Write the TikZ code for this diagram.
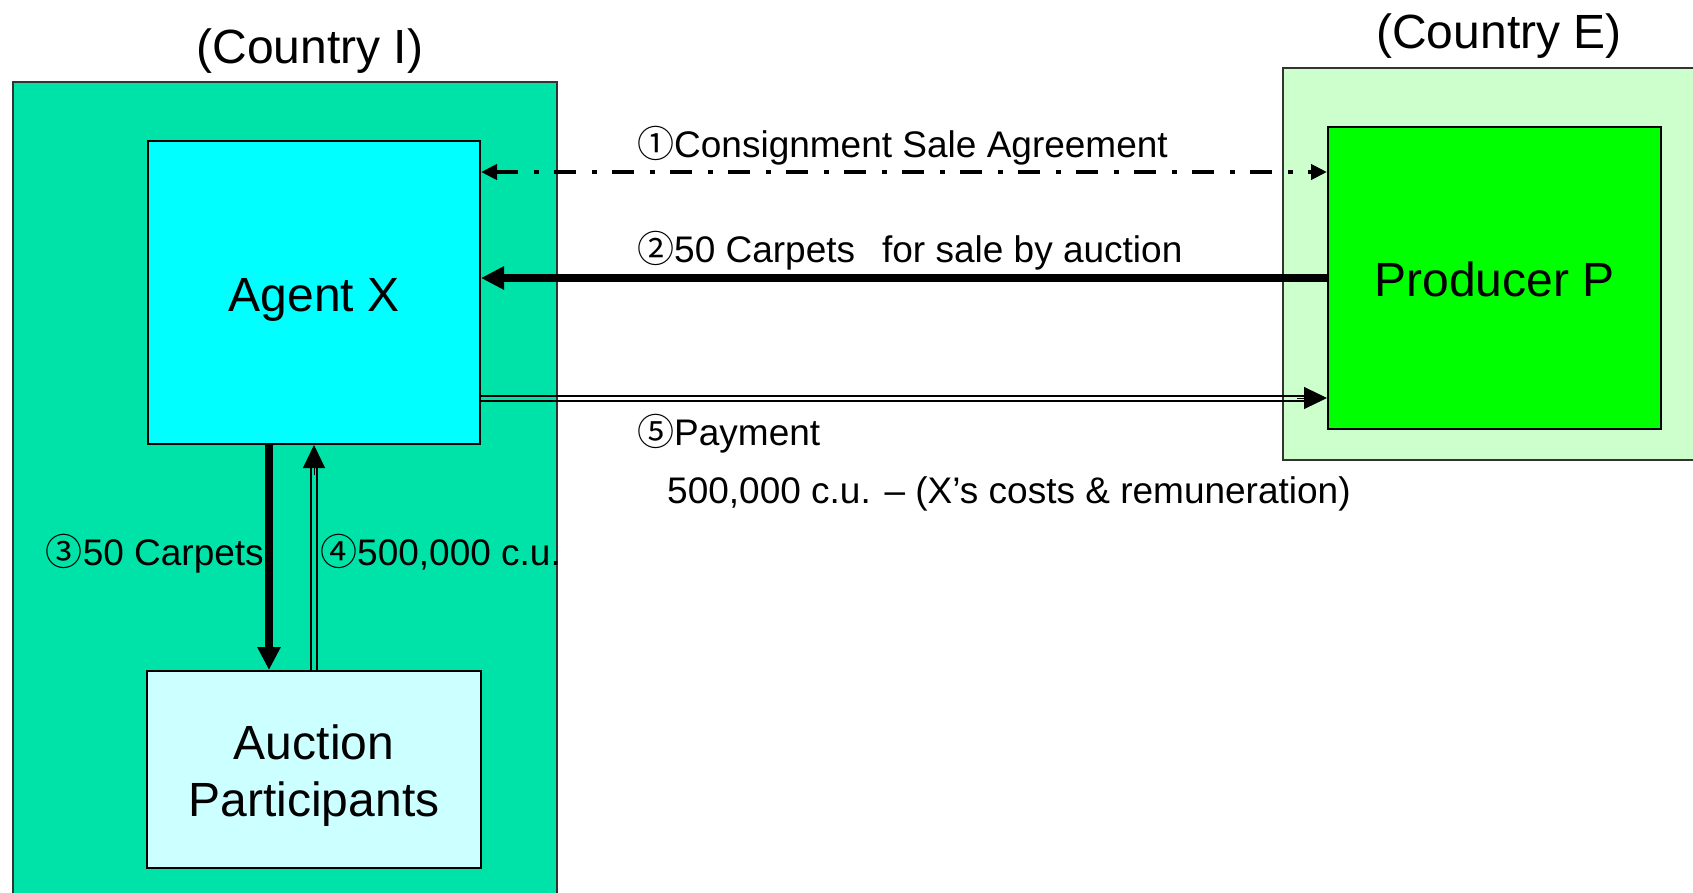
\documentclass[tikz,border=0pt]{standalone}
\usepackage{fontspec}
\setmainfont{Liberation Sans}
\newfontfamily\cjk{Noto Sans CJK JP}
\usetikzlibrary{arrows.meta}
\definecolor{cI}{RGB}{0,227,168}
\definecolor{agentc}{RGB}{0,255,255}
\definecolor{auctc}{RGB}{204,255,255}
\definecolor{cE}{RGB}{204,255,204}
\definecolor{prodc}{RGB}{0,255,0}
\newcommand\cnum[1]{{\cjk #1}}
\begin{document}
\begin{tikzpicture}[x=1pt,y=-1pt,
  region/.style={draw=black!80, line width=1.5pt, anchor=north west, inner sep=0pt},
  box/.style={draw=black, line width=2pt, inner sep=0pt, align=center, font=\fontsize{48pt}{57.6pt}\selectfont},
  onetext/.style={text height=37pt, text depth=0pt},
  boxtext/.style={inner sep=0pt, align=center, font=\fontsize{48pt}{57pt}\selectfont},
  title/.style={inner sep=0pt, anchor=base, font=\fontsize{48pt}{57.6pt}\selectfont},
  lbl/.style={inner sep=0pt, font=\fontsize{37pt}{44pt}\selectfont},
  thickarr/.style={line width=8pt, -{Triangle[length=23pt,width=22pt]}},
  thinline/.style={line width=2pt},
  tiponly/.style={line width=1pt, -{Triangle[length=23pt,width=22pt]}},
  agree/.style={line width=4.5pt, dash pattern=on 22pt off 16pt on 5pt off 15pt,
    {Triangle[length=16pt,width=15pt]}-{Triangle[length=16pt,width=15pt]}}
]
\useasboundingbox (0,0) rectangle (1693,892);
\fill[white] (0,0) rectangle (1693,892);

% regions
\node[region, fill=cI, minimum width=544pt, minimum height=830pt] (ci) at (12,81) {};
\node[region, fill=cE, minimum width=430pt, minimum height=392pt] (ce) at (1282,67) {};
\node[title] (tI) at (310,63) {(Country I)};
\node[title] (tE) at (1499,48) {(Country E)};

% boxes
\node[box, onetext, fill=agentc, minimum width=332pt, minimum height=303pt] (agent) at (314,292.5) {Agent X};
\node[box, fill=auctc, minimum width=334pt, minimum height=197pt] (auct) at (314,769.5) {};
\node[boxtext] (aucttext) at ([yshift=-6pt]auct.center) {Auction\\Participants};
\node[box, onetext, fill=prodc, minimum width=333pt, minimum height=302pt] (prod) at (1494.5,278) {Producer P};

% helper coordinates
\coordinate (y1) at (0,172);
\coordinate (y2) at (0,278);
\coordinate (y5) at (0,398);
\coordinate (x3) at (269,0);
\coordinate (x4) at (314,0);

% 1 agreement
\draw[agree] (agent.east |- y1) -- (prod.west |- y1);
% 2 carpets
\draw[thickarr] (prod.west |- y2) -- (agent.east |- y2);
% 5 payment (double line)
\coordinate (p5s) at (agent.east |- y5);
\coordinate (p5e) at (prod.west |- y5);
\draw[thinline] ([yshift=2.5pt]p5s) -- ([yshift=2.5pt,xshift=-21pt]p5e);
\draw[thinline] ([yshift=-2.5pt]p5s) -- ([yshift=-2.5pt,xshift=-21pt]p5e);
\draw[tiponly] ([xshift=-30pt]p5e) -- (p5e);
% 3 carpets down
\draw[thickarr] (agent.south -| x3) -- (auct.north -| x3);
% 4 money up (double line)
\coordinate (p4s) at (auct.north -| x4);
\coordinate (p4e) at (agent.south -| x4);
\draw[thinline] ([xshift=2.8pt]p4s) -- ([xshift=2.8pt,yshift=-21pt]p4e);
\draw[thinline] ([xshift=-2.8pt]p4s) -- ([xshift=-2.8pt,yshift=-21pt]p4e);
\draw[tiponly] ([yshift=-30pt]p4e) -- (p4e);

% labels
\node[lbl, anchor=base west] (l1) at (637,157) {\cnum{①}Consignment Sale Agreement};
\node[lbl, anchor=base west] (l2) at (637,262) {\cnum{②}50 Carpets\hspace{0.45em} for sale by auction};
\node[lbl, anchor=base west] (l5) at (637,445) {\cnum{⑤}Payment};
\node[lbl, anchor=base west] (l5b) at (667,503) {500,000 c.u. – (X’s costs \& remuneration)};
\node[lbl, anchor=base east] (l3) at (264,565) {\cnum{③}50 Carpets};
\node[lbl, anchor=base west] (l4) at (320,565) {\cnum{④}500,000 c.u.};
\end{tikzpicture}
\end{document}
